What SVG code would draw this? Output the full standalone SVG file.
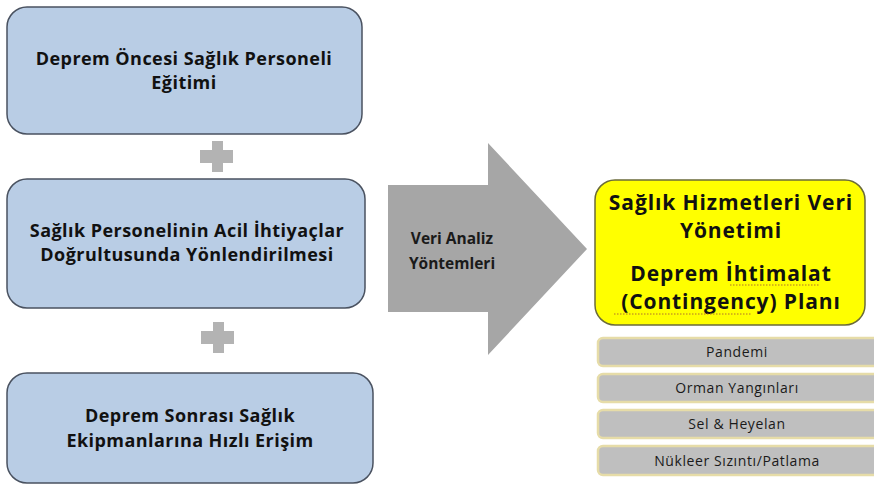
<svg xmlns="http://www.w3.org/2000/svg" width="874" height="484" viewBox="0 0 874 484">
  <defs>
    <style>
      .step { fill: #b9cde5; stroke: #4a5260; stroke-width: 1.5; }
      .step-text { font-family: "Open Sans", Lato, sans-serif; font-weight: bold; font-size: 18px; letter-spacing: 0.45px; fill: #111; text-anchor: middle; }
      .plus { fill: #b3b3b3; }
      .arrow { fill: #a6a6a6; }
      .arrow-text { font-family: "Open Sans", Lato, sans-serif; font-weight: bold; font-size: 15.5px; fill: #1a1a1a; text-anchor: middle; }
      .result { fill: #ffff00; stroke: #6b6b3a; stroke-width: 1.5; }
      .result-text { font-family: "Open Sans", Lato, sans-serif; font-weight: bold; font-size: 21px; letter-spacing: 0.9px; fill: #111; text-anchor: middle; }
      .squiggle { stroke: #b0702a; stroke-width: 1; stroke-dasharray: 1.5 1.5; fill: none; }
      .bar { fill: #bfbfbf; stroke: #e6dca8; stroke-width: 2.5; }
      .bar-text { font-family: "Open Sans", Lato, sans-serif; font-size: 14px; letter-spacing: 0.6px; fill: #1a1a1a; text-anchor: middle; }
    </style>
  </defs>

  <rect width="874" height="484" fill="#ffffff"/>

  <!-- left column: three stages joined by plus signs -->
  <g id="stage-training">
    <rect class="step" x="7" y="7" width="355" height="127" rx="20"/>
    <text class="step-text" x="184" y="65">Deprem Öncesi Sağlık Personeli</text>
    <text class="step-text" x="184" y="89">Eğitimi</text>
  </g>

  <g id="plus-1">
    <rect class="plus" x="212" y="141" width="11" height="31"/>
    <rect class="plus" x="200" y="150" width="33" height="13"/>
  </g>

  <g id="stage-direction">
    <rect class="step" x="7" y="179" width="358" height="129" rx="20"/>
    <text class="step-text" x="187" y="237">Sağlık Personelinin Acil İhtiyaçlar</text>
    <text class="step-text" x="187" y="261">Doğrultusunda Yönlendirilmesi</text>
  </g>

  <g id="plus-2">
    <rect class="plus" x="213" y="322" width="11" height="31"/>
    <rect class="plus" x="201" y="331" width="33" height="13"/>
  </g>

  <g id="stage-equipment">
    <rect class="step" x="7" y="373" width="366" height="110" rx="20"/>
    <text class="step-text" x="190" y="422">Deprem Sonrası Sağlık</text>
    <text class="step-text" x="190" y="447">Ekipmanlarına Hızlı Erişim</text>
  </g>

  <!-- big block arrow -->
  <g id="connectors">
    <g id="analysis-arrow">
      <polygon class="arrow" points="388,185 488,185 488,143 587,249 488,355 488,312 388,312"/>
      <text class="arrow-text" x="452" y="244">Veri Analiz</text>
      <text class="arrow-text" x="452" y="269">Yöntemleri</text>
    </g>
  </g>

  <!-- outcome box -->
  <g id="outcome">
    <rect class="result" x="595" y="180" width="270" height="145" rx="20"/>
    <text class="result-text" x="731" y="210">Sağlık Hizmetleri Veri</text>
    <text class="result-text" x="731" y="238">Yönetimi</text>
    <text class="result-text" x="731" y="281">Deprem İhtimalat</text>
    <text class="result-text" x="731" y="309">(Contingency) Planı</text>
    <line class="squiggle" x1="730" y1="285" x2="820" y2="285"/>
    <line class="squiggle" x1="614" y1="314" x2="752" y2="314"/>
  </g>

  <!-- hazard list -->
  <g id="hazard-pandemic">
    <rect class="bar" x="598" y="338" width="290" height="28" rx="5"/>
    <text class="bar-text" x="737" y="357">Pandemi</text>
  </g>
  <g id="hazard-forest-fire">
    <rect class="bar" x="598" y="374" width="290" height="28" rx="5"/>
    <text class="bar-text" x="737" y="393">Orman Yangınları</text>
  </g>
  <g id="hazard-flood">
    <rect class="bar" x="598" y="410" width="290" height="28" rx="5"/>
    <text class="bar-text" x="737" y="429">Sel &amp; Heyelan</text>
  </g>
  <g id="hazard-nuclear">
    <rect class="bar" x="598" y="446" width="290" height="29" rx="5"/>
    <text class="bar-text" x="737" y="466">Nükleer Sızıntı/Patlama</text>
  </g>
</svg>
